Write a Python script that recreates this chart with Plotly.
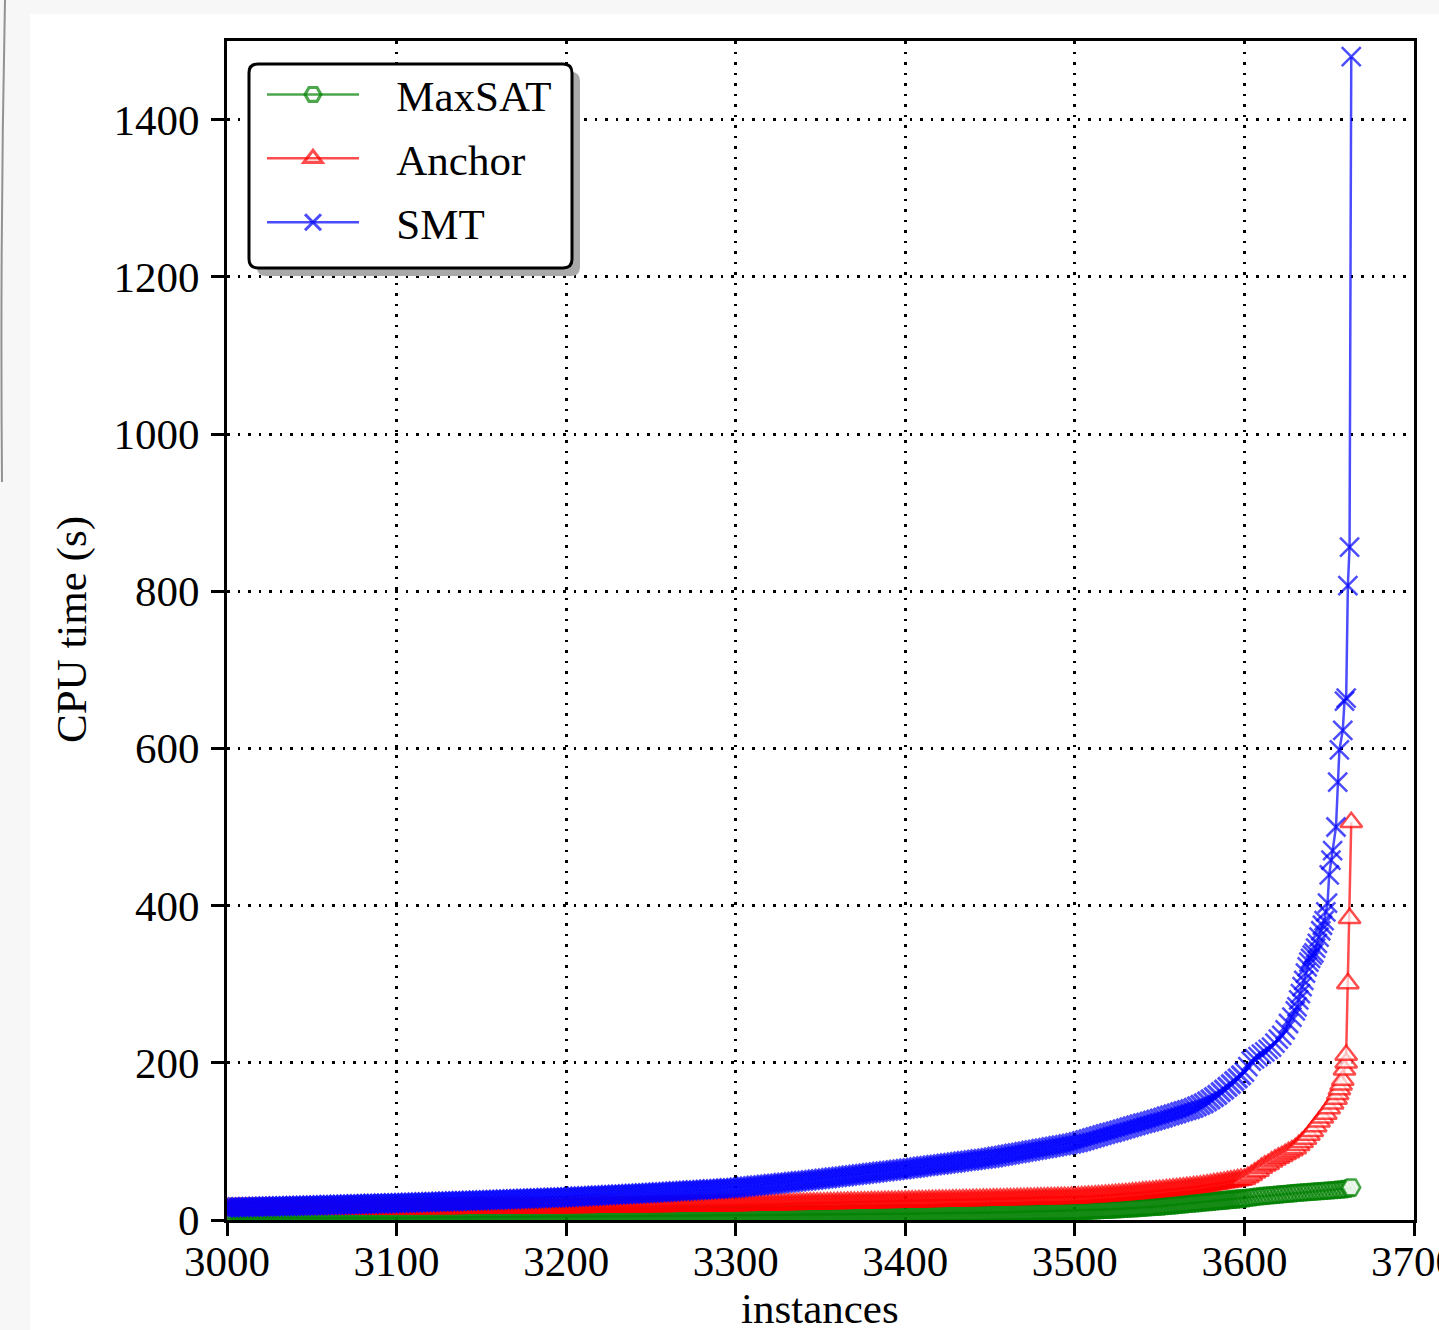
import plotly.graph_objects as go

# ---------------- data (sorted CPU times per instance) ----------------
DENSE_START = 2998
DENSE_STEP = 2

maxsat_dense = [
    2.0,
    2.0, 2.0, 2.0, 2.1, 2.1, 2.1, 2.1, 2.1, 2.2, 2.2,
    2.2, 2.2, 2.2, 2.3, 2.3, 2.3, 2.3, 2.3, 2.4, 2.4,
    2.4, 2.4, 2.4, 2.5, 2.5, 2.5, 2.5, 2.5, 2.6, 2.6,
    2.6, 2.6, 2.6, 2.7, 2.7, 2.7, 2.7, 2.7, 2.8, 2.8,
    2.8, 2.8, 2.8, 2.9, 2.9, 2.9, 2.9, 2.9, 3.0, 3.0,
    3.0, 3.0, 3.1, 3.1, 3.1, 3.1, 3.1, 3.2, 3.2, 3.2,
    3.2, 3.3, 3.3, 3.3, 3.3, 3.4, 3.4, 3.4, 3.4, 3.5,
    3.5, 3.5, 3.5, 3.6, 3.6, 3.6, 3.6, 3.6, 3.7, 3.7,
    3.7, 3.7, 3.8, 3.8, 3.8, 3.8, 3.9, 3.9, 3.9, 3.9,
    4.0, 4.0, 4.0, 4.0, 4.1, 4.1, 4.1, 4.1, 4.2, 4.2,
    4.2, 4.2, 4.3, 4.3, 4.3, 4.4, 4.4, 4.5, 4.5, 4.5,
    4.6, 4.6, 4.6, 4.7, 4.7, 4.7, 4.8, 4.8, 4.8, 4.9,
    4.9, 5.0, 5.0, 5.0, 5.1, 5.1, 5.1, 5.2, 5.2, 5.2,
    5.3, 5.3, 5.3, 5.4, 5.4, 5.4, 5.5, 5.5, 5.6, 5.6,
    5.6, 5.7, 5.7, 5.7, 5.8, 5.8, 5.8, 5.9, 5.9, 5.9,
    6.0, 6.0, 6.1, 6.1, 6.2, 6.2, 6.2, 6.3, 6.3, 6.4,
    6.4, 6.4, 6.5, 6.5, 6.6, 6.6, 6.6, 6.7, 6.7, 6.8,
    6.8, 6.8, 6.9, 6.9, 7.0, 7.0, 7.0, 7.1, 7.1, 7.2,
    7.2, 7.2, 7.3, 7.3, 7.4, 7.4, 7.4, 7.5, 7.5, 7.6,
    7.6, 7.6, 7.7, 7.7, 7.8, 7.8, 7.8, 7.9, 7.9, 8.0,
    8.0, 8.1, 8.1, 8.2, 8.2, 8.3, 8.4, 8.4, 8.5, 8.5,
    8.6, 8.7, 8.7, 8.8, 8.8, 8.9, 9.0, 9.0, 9.1, 9.1,
    9.2, 9.3, 9.3, 9.4, 9.4, 9.5, 9.6, 9.7, 9.8, 9.9,
    9.9, 10.0, 10.1, 10.2, 10.3, 10.3, 10.4, 10.5, 10.6, 10.7,
    10.7, 10.8, 10.9, 11.0, 11.1, 11.1, 11.2, 11.3, 11.4, 11.5,
    11.5, 11.7, 11.9, 12.1, 12.3, 12.5, 12.7, 12.9, 13.1, 13.3,
    13.5, 13.7, 13.9, 14.1, 14.4, 14.7, 15.0, 15.2, 15.5, 15.8,
    16.1, 16.4, 16.6, 16.9, 17.2,
    17.5, 17.9, 18.3, 18.7, 19.1, 19.5, 19.9, 20.3, 20.7, 21.1,
    21.5, 21.9, 22.3, 22.7, 23.1, 23.5, 23.9, 24.3, 24.7, 25.1,
    25.5, 25.9, 26.3, 26.7, 27.1,
]
maxsat_tail_x = [3600, 3602, 3604, 3606, 3608, 3610, 3612, 3614, 3616, 3618,
                 3620, 3622, 3624, 3626, 3628, 3630, 3632, 3634, 3636, 3638,
                 3640, 3642, 3644, 3646, 3648, 3650, 3652, 3654, 3656, 3658,
                 3660, 3662, 3663]
maxsat_tail_y = [27.5, 28.1, 28.7, 29.3, 29.8, 30.3, 30.7, 31.1, 31.5, 31.9,
                 32.3, 32.7, 33.1, 33.5, 33.9, 34.3, 34.7, 35.0, 35.4, 35.7,
                 36.0, 36.3, 36.6, 36.9, 37.2, 37.5, 37.8, 38.2, 38.6, 39.0,
                 39.6, 40.5, 41.5]

anchor_dense = [
    14.0,
    14.0, 14.0, 14.0, 14.1, 14.1, 14.1, 14.1, 14.1, 14.2, 14.2,
    14.2, 14.2, 14.2, 14.3, 14.3, 14.3, 14.3, 14.3, 14.4, 14.4,
    14.4, 14.4, 14.4, 14.5, 14.5, 14.5, 14.5, 14.5, 14.6, 14.6,
    14.6, 14.6, 14.6, 14.7, 14.7, 14.7, 14.7, 14.7, 14.8, 14.8,
    14.8, 14.8, 14.8, 14.9, 14.9, 14.9, 14.9, 14.9, 15.0, 15.0,
    15.0, 15.1, 15.1, 15.1, 15.1, 15.2, 15.2, 15.2, 15.2, 15.3,
    15.3, 15.3, 15.4, 15.4, 15.4, 15.5, 15.5, 15.5, 15.5, 15.6,
    15.6, 15.6, 15.7, 15.7, 15.7, 15.8, 15.8, 15.8, 15.8, 15.9,
    15.9, 15.9, 16.0, 16.0, 16.0, 16.1, 16.1, 16.1, 16.1, 16.2,
    16.2, 16.2, 16.3, 16.3, 16.3, 16.4, 16.4, 16.4, 16.4, 16.5,
    16.5, 16.6, 16.6, 16.7, 16.7, 16.8, 16.8, 16.9, 16.9, 17.0,
    17.0, 17.1, 17.1, 17.2, 17.2, 17.3, 17.3, 17.4, 17.4, 17.5,
    17.5, 17.6, 17.6, 17.7, 17.7, 17.8, 17.8, 17.9, 17.9, 18.0,
    18.0, 18.1, 18.1, 18.2, 18.2, 18.3, 18.3, 18.4, 18.4, 18.5,
    18.5, 18.6, 18.6, 18.7, 18.7, 18.8, 18.8, 18.9, 18.9, 19.0,
    19.0, 19.1, 19.2, 19.3, 19.4, 19.5, 19.5, 19.6, 19.7, 19.8,
    19.9, 20.0, 20.1, 20.2, 20.3, 20.4, 20.4, 20.5, 20.6, 20.7,
    20.8, 20.9, 21.0, 21.1, 21.2, 21.3, 21.3, 21.4, 21.5, 21.6,
    21.7, 21.8, 21.9, 22.0, 22.1, 22.2, 22.2, 22.3, 22.4, 22.5,
    22.6, 22.7, 22.8, 22.9, 23.0, 23.1, 23.1, 23.2, 23.3, 23.4,
    23.5, 23.6, 23.7, 23.8, 23.9, 24.0, 24.1, 24.2, 24.3, 24.4,
    24.5, 24.6, 24.7, 24.8, 24.9, 25.0, 25.1, 25.2, 25.3, 25.4,
    25.5, 25.6, 25.7, 25.8, 25.9, 26.0, 26.1, 26.2, 26.3, 26.4,
    26.5, 26.6, 26.7, 26.8, 26.9, 27.0, 27.1, 27.2, 27.3, 27.4,
    27.5, 27.6, 27.7, 27.8, 27.9, 28.0, 28.1, 28.2, 28.3, 28.4,
    28.5, 28.8, 29.1, 29.3, 29.6, 29.9, 30.2, 30.5, 30.7, 31.0,
    31.3, 31.6, 31.9, 32.2, 32.6, 33.0, 33.4, 33.8, 34.2, 34.6,
    35.0, 35.4, 35.8, 36.2, 36.6,
    37.0, 37.5, 38.0, 38.4, 38.9, 39.4, 39.9, 40.4, 40.8, 41.3,
    41.8, 42.3, 42.8, 43.4, 44.1, 44.8, 45.6, 46.3, 47.0, 47.7,
    48.5, 49.2, 49.9, 50.6, 51.4,
]
anchor_tail_x = [3600, 3602, 3604, 3606, 3608, 3610, 3612, 3614, 3616, 3618,
                 3620, 3622, 3624, 3626, 3628, 3630, 3632, 3634, 3636, 3638,
                 3640, 3642, 3644, 3646, 3648, 3650, 3652, 3654,
                 3655, 3656, 3657, 3658, 3659, 3660, 3660, 3661, 3662, 3663]
anchor_tail_y = [52, 54.5, 57, 60, 62.5, 66, 69, 71, 74, 76.5,
                 79, 81, 83.5, 86, 88.5, 91, 95, 99, 103, 108,
                 113, 119, 125, 130, 135, 142, 148, 154,
                 160, 166, 172, 178, 191, 200, 210, 301, 384, 506]

smt_dense = [
    15.9,
    16.0, 16.1, 16.2, 16.3, 16.4, 16.5, 16.6, 16.7, 16.8, 16.9,
    17.0, 17.1, 17.2, 17.3, 17.4, 17.5, 17.6, 17.7, 17.8, 17.9,
    18.0, 18.1, 18.2, 18.3, 18.4,
    18.5, 18.6, 18.7, 18.9, 19.0, 19.1, 19.2, 19.3, 19.5, 19.6,
    19.7, 19.8, 19.9, 20.1, 20.2, 20.3, 20.4, 20.5, 20.7, 20.8,
    20.9, 21.0, 21.1, 21.3, 21.4,
    21.5, 21.6, 21.8, 21.9, 22.1, 22.2, 22.3, 22.5, 22.6, 22.8,
    22.9, 23.0, 23.2, 23.3, 23.5, 23.6, 23.7, 23.9, 24.0, 24.2,
    24.3, 24.4, 24.6, 24.7, 24.9,
    25.0, 25.2, 25.3, 25.5, 25.6, 25.8, 26.0, 26.1, 26.3, 26.4,
    26.6, 26.8, 26.9, 27.1, 27.2, 27.4, 27.6, 27.7, 27.9, 28.0,
    28.2, 28.4, 28.5, 28.7, 28.8,
    29.0, 29.2, 29.4, 29.7, 29.9, 30.1, 30.3, 30.5, 30.8, 31.0,
    31.2, 31.4, 31.6, 31.9, 32.1, 32.3, 32.5, 32.7, 33.0, 33.2,
    33.4, 33.6, 33.8, 34.1, 34.3,
    34.5, 34.8, 35.0, 35.3, 35.5, 35.8, 36.1, 36.3, 36.6, 36.8,
    37.1, 37.4, 37.6, 37.9, 38.1, 38.4, 38.7, 38.9, 39.2, 39.4,
    39.7, 40.0, 40.2, 40.5, 40.7,
    41.0, 41.4, 41.9, 42.3, 42.8, 43.2, 43.6, 44.1, 44.5, 45.0,
    45.4, 45.8, 46.3, 46.7, 47.2, 47.6, 48.0, 48.5, 48.9, 49.4,
    49.8, 50.2, 50.7, 51.1, 51.6,
    52.0, 52.5, 53.0, 53.6, 54.1, 54.6, 55.1, 55.6, 56.2, 56.7,
    57.2, 57.7, 58.2, 58.8, 59.3, 59.8, 60.3, 60.8, 61.4, 61.9,
    62.4, 62.9, 63.4, 64.0, 64.5,
    65.0, 65.6, 66.1, 66.7, 67.2, 67.8, 68.4, 68.9, 69.5, 70.0,
    70.6, 71.2, 71.7, 72.3, 72.8, 73.4, 74.0, 74.5, 75.1, 75.6,
    76.2, 76.8, 77.3, 77.9, 78.4,
    79.0, 79.8, 80.5, 81.3, 82.0, 82.8, 83.6, 84.3, 85.1, 85.8,
    86.6, 87.4, 88.1, 88.9, 89.6, 90.4, 91.2, 91.9, 92.7, 93.4,
    94.2, 95.0, 95.7, 96.5, 97.2,
    98.0, 99.2, 100.5, 101.7, 103.0, 104.2, 105.4, 106.7, 107.9, 109.2,
    110.4, 111.6, 112.9, 114.1, 115.4, 116.6, 117.8, 119.1, 120.3, 121.6,
    122.8, 124.0, 125.3, 126.5, 127.8,
    129.0, 130.4, 131.7, 133.1, 134.4, 135.8, 137.2, 138.5, 139.9, 141.2,
    142.8, 144.5, 146.4, 148.5, 150.8, 153.4, 156.2, 159.3, 162.6, 166.0,
    169.5, 173.0, 176.6, 180.2, 184.0,
]
smt_tail_x = [3600, 3602, 3604, 3606, 3608, 3610, 3612, 3614, 3616, 3618,
              3620, 3622, 3624, 3626, 3628, 3630,
              3631, 3632, 3633, 3634, 3635, 3636, 3637, 3638, 3639, 3640,
              3641, 3642, 3643, 3644, 3645, 3646, 3647, 3648, 3649, 3650,
              3651, 3652,
              3654, 3655, 3656, 3658, 3659, 3660, 3661, 3662, 3663]
smt_tail_y = [188, 195, 202, 205, 208, 211, 214, 217, 220, 225,
              230, 235, 242, 250, 258, 266,
              271, 280, 288, 297, 305, 314, 322, 328, 333, 337,
              340, 346, 352, 360, 368, 375, 381, 392, 403, 439,
              458, 470,
              500, 557, 598, 623, 660, 664, 807, 856, 1480]

series_names = ["MaxSAT", "Anchor", "SMT"]
x_ticks = [3000, 3100, 3200, 3300, 3400, 3500, 3600, 3700]
y_ticks = [0, 200, 400, 600, 800, 1000, 1200, 1400]
x_title = "instances"
y_title = "CPU time (s)"

# ---------------- geometry / style ----------------
W, H = 1439, 1330
PL, PR, PT, PB = 227, 1414, 41, 1220
FONT = "Liberation Serif"
FS = 43
LEGEND_PAD = "\u00a0\u00a0\u00a0"


def paper(px, py):
    return ((px - PL) / (PR - PL), (PB - py) / (PB - PT))


def rrect_path(x0, y0, x1, y1, r):
    pts = [
        ("M", [(x0 + r, y0)]), ("L", [(x1 - r, y0)]), ("Q", [(x1, y0), (x1, y0 + r)]),
        ("L", [(x1, y1 - r)]), ("Q", [(x1, y1), (x1 - r, y1)]),
        ("L", [(x0 + r, y1)]), ("Q", [(x0, y1), (x0, y1 - r)]),
        ("L", [(x0, y0 + r)]), ("Q", [(x0, y0), (x0 + r, y0)]),
    ]
    s = ""
    for cmd, ps in pts:
        s += cmd + " ".join("%.5f,%.5f" % paper(px, py) for px, py in ps) + " "
    return s + "Z"


def full_series(dense, tx, ty):
    xs = [DENSE_START + DENSE_STEP * i for i in range(len(dense))] + list(tx)
    ys = list(dense) + list(ty)
    return xs, ys


specs = [
    (maxsat_dense, maxsat_tail_x, maxsat_tail_y, "0,128,0", "hexagon2", 18, "last"),
    (anchor_dense, anchor_tail_x, anchor_tail_y, "255,0,0", "triangle-up", 19, "tail"),
    (smt_dense, smt_tail_x, smt_tail_y, "0,0,255", "x-thin-open", 19, "none"),
]

fig = go.Figure()
for name, (dense, tx, ty, rgb, sym, size, fillmode) in zip(series_names, specs):
    xs, ys = full_series(dense, tx, ty)
    col = "rgba(%s,0.7)" % rgb
    n_dense = len(dense)
    widths = [3.2] * n_dense + [2.5] * len(ty)
    if fillmode == "tail":
        fills = ["rgba(255,255,255,0)"] * n_dense + ["rgba(255,255,255,0.7)"] * len(ty)
    elif fillmode == "last":
        fills = ["rgba(255,255,255,0)"] * (len(xs) - 1) + ["rgba(255,255,255,0.85)"]
    else:
        fills = col
    if sym.endswith("-open"):
        marker = dict(symbol=sym, size=size, color=col, line=dict(width=widths))
    else:
        marker = dict(symbol=sym, size=size, color=fills, line=dict(color=col, width=widths))
    fig.add_trace(go.Scatter(
        x=xs, y=ys, mode="lines+markers", name=LEGEND_PAD + name,
        line=dict(color=col, width=2.5), marker=marker,
        legendgroup=name,
    ))

axis_common = dict(
    showline=True, linewidth=3, linecolor="black", mirror=True,
    ticks="outside", ticklen=13, tickwidth=3, tickcolor="black",
    showgrid=True, gridcolor="black", gridwidth=2.5, griddash="2.5px,8px",
    zeroline=False, tickfont=dict(family=FONT, size=FS, color="black"),
    automargin=False, ticklabeloverflow="allow",
)
fig.update_xaxes(range=[3000, 3700], tickvals=x_ticks, ticktext=[str(v) for v in x_ticks],
                 ticklabelstandoff=-12, **axis_common)
fig.update_yaxes(range=[0, 1500], tickvals=y_ticks, ticktext=[str(v) for v in y_ticks],
                 ticklabelstandoff=3, **axis_common)

shapes = []
# white page area over light-grey background
x0p, y0p = paper(30, 14)
x1p, y1p = paper(W + 5, H + 5)
shapes.append(dict(type="rect", xref="paper", yref="paper", x0=x0p, y0=y1p, x1=x1p, y1=y0p,
                   fillcolor="white", line=dict(width=0), layer="below"))
# thin grey edge at far left
shapes.append(dict(type="path", xref="paper", yref="paper",
                   path="M%.5f,%.5f Q%.5f,%.5f %.5f,%.5f" % (*paper(5, 0), *paper(0, 240), *paper(2, 482)),
                   line=dict(color="rgba(120,120,120,0.8)", width=2), layer="below"))
# legend shadow + frame
shapes.append(dict(type="path", xref="paper", yref="paper", path=rrect_path(257, 72, 580, 276, 9),
                   fillcolor="#a9a9a9", line=dict(width=0), layer="above"))
shapes.append(dict(type="path", xref="paper", yref="paper", path=rrect_path(249, 64, 572, 268, 9),
                   fillcolor="white", line=dict(color="black", width=3), layer="above"))

lx, ly = paper(262, 60)
ax_, ay_ = paper(72, 630)
bx_, by_ = paper(820, 1334)
fig.update_layout(
    width=W, height=H,
    margin=dict(l=PL, r=W - PR, t=PT, b=H - PB, autoexpand=False),
    paper_bgcolor="#f7f7f7", plot_bgcolor="white",
    font=dict(family=FONT, size=FS, color="black"),
    showlegend=True,
    legend=dict(x=lx, y=ly, xanchor="left", yanchor="top", xref="paper", yref="paper",
                bgcolor="rgba(0,0,0,0)", borderwidth=0, itemwidth=92,
                font=dict(family=FONT, size=FS, color="black"), tracegroupgap=5,
                itemclick=False, itemdoubleclick=False),
    shapes=shapes,
    annotations=[
        dict(text=y_title, x=ax_, y=ay_, xref="paper", yref="paper", showarrow=False,
             textangle=-90, xanchor="center", yanchor="middle",
             font=dict(family=FONT, size=FS, color="black")),
        dict(text=x_title, x=bx_, y=by_, xref="paper", yref="paper", showarrow=False,
             xanchor="center", yanchor="bottom",
             font=dict(family=FONT, size=FS, color="black")),
    ],
)

fig.write_html("out.html", config={"displayModeBar": False},
               post_script="document.body.style.margin='0';document.body.style.padding='0';")
